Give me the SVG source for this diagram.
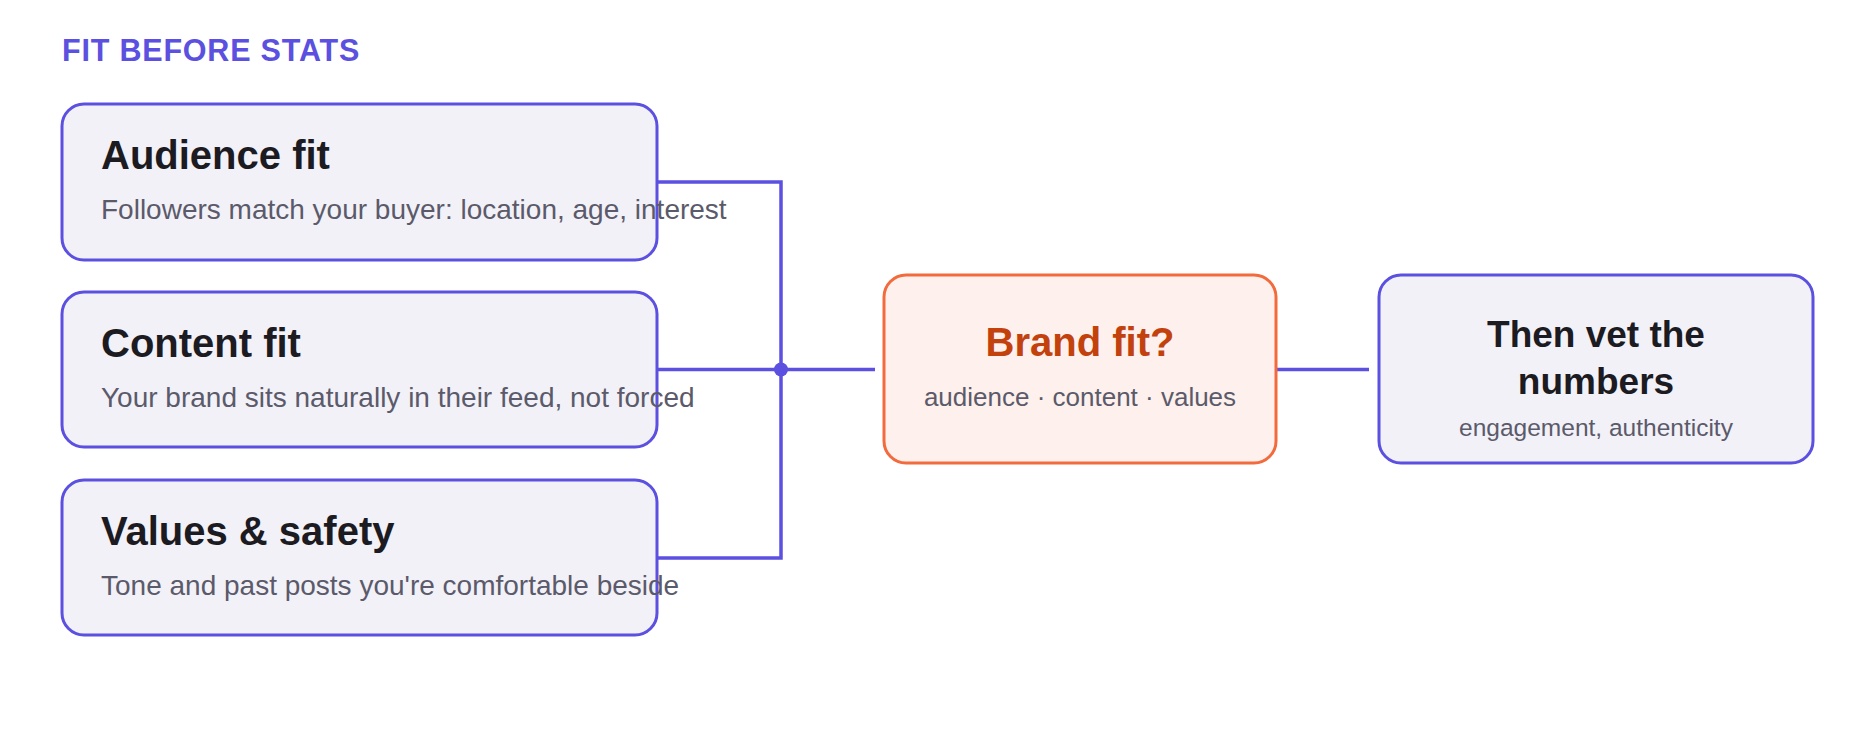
<svg xmlns="http://www.w3.org/2000/svg" width="1875" height="734" viewBox="0 0 1875 734">
<style>
.bg{fill:#ffffff}
.box{fill:#f2f1f8;stroke:#5b50e0;stroke-width:3}
.hub{fill:#fef0ec;stroke:#f26b3d;stroke-width:3}
.ttl{font-family:"Liberation Sans",Arial,sans-serif;font-weight:bold;font-size:40px;fill:#1c1b22}
.sub{font-family:"Liberation Sans",Arial,sans-serif;font-size:28px;fill:#5b5a6a}
.head{font-family:"Liberation Sans",Arial,sans-serif;font-weight:bold;font-size:30.5px;fill:#5b50e0;letter-spacing:0.8px}
.conn{fill:none;stroke:#5b50e0;stroke-width:3.5}
</style>
<rect class="bg" x="0" y="0" width="1875" height="734"/>
<text class="head" x="62" y="61">FIT BEFORE STATS</text>
<g id="connectors">
<polyline class="conn" points="657,182 781,182 781,558 657,558"/>
<line class="conn" x1="657" y1="369.5" x2="875" y2="369.5"/>
<line class="conn" x1="1276" y1="369.5" x2="1369" y2="369.5"/>
<circle cx="781" cy="369.5" r="7" fill="#5b50e0"/>
</g>
<g id="audience">
<rect class="box" x="62" y="104" width="595" height="156" rx="22"/>
<text class="ttl" x="101" y="169">Audience fit</text>
<text class="sub" x="101" y="219">Followers match your buyer: location, age, interest</text>
</g>
<g id="content">
<rect class="box" x="62" y="292" width="595" height="155" rx="22"/>
<text class="ttl" x="101" y="357">Content fit</text>
<text class="sub" x="101" y="407">Your brand sits naturally in their feed, not forced</text>
</g>
<g id="values">
<rect class="box" x="62" y="480" width="595" height="155" rx="22"/>
<text class="ttl" x="101" y="545">Values &amp; safety</text>
<text class="sub" x="101" y="595">Tone and past posts you're comfortable beside</text>
</g>
<g id="brandfit">
<rect class="hub" x="884" y="275" width="392" height="188" rx="22"/>
<text x="1080" y="356" text-anchor="middle" font-family="'Liberation Sans',Arial,sans-serif" font-weight="bold" font-size="40" fill="#c2410c">Brand fit?</text>
<text x="1080" y="406" text-anchor="middle" font-family="'Liberation Sans',Arial,sans-serif" font-size="26" fill="#5b5a6a">audience · content · values</text>
</g>
<g id="numbers">
<rect class="box" x="1379" y="275" width="434" height="188" rx="22"/>
<text x="1596" y="347" text-anchor="middle" font-family="'Liberation Sans',Arial,sans-serif" font-weight="bold" font-size="37" fill="#1c1b22">Then vet the</text>
<text x="1596" y="394" text-anchor="middle" font-family="'Liberation Sans',Arial,sans-serif" font-weight="bold" font-size="37" fill="#1c1b22">numbers</text>
<text x="1596" y="436" text-anchor="middle" font-family="'Liberation Sans',Arial,sans-serif" font-size="24.5" fill="#5b5a6a">engagement, authenticity</text>
</g>
</svg>
